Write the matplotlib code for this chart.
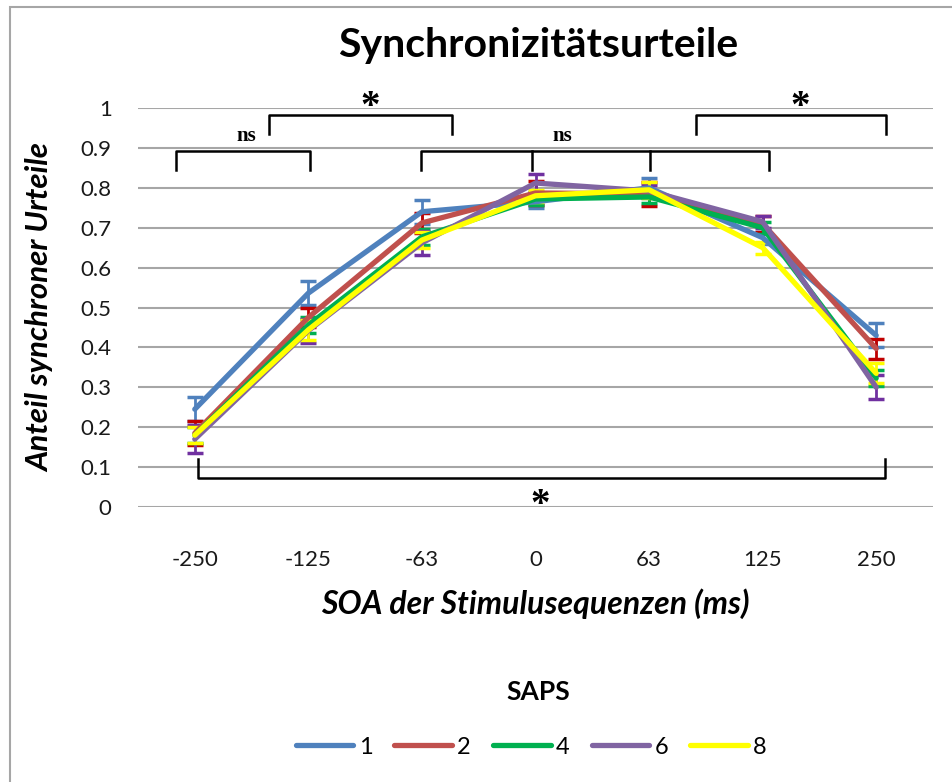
import matplotlib
matplotlib.use("Agg")
import matplotlib.pyplot as plt
from matplotlib.patches import Rectangle

plt.rcParams['font.family'] = ['Lato', 'DejaVu Sans']

# data
soa = ["-250", "-125", "-63", "0", "63", "125", "250"]
saps = ["1", "2", "4", "6", "8"]
m1 = [0.245, 0.536, 0.740, 0.765, 0.800, 0.675, 0.430]
m2 = [0.185, 0.475, 0.712, 0.787, 0.785, 0.710, 0.397]
m4 = [0.180, 0.456, 0.677, 0.772, 0.777, 0.700, 0.323]
m6 = [0.170, 0.442, 0.662, 0.812, 0.792, 0.715, 0.300]
m8 = [0.180, 0.444, 0.669, 0.780, 0.795, 0.650, 0.335]
e1 = [0.030, 0.030, 0.030, 0.015, 0.025, 0.015, 0.030]
e2 = [0.030, 0.025, 0.025, 0.030, 0.030, 0.020, 0.025]
e4 = [0.020, 0.020, 0.020, 0.015, 0.015, 0.015, 0.020]
e6 = [0.035, 0.030, 0.030, 0.022, 0.015, 0.015, 0.030]
e8 = [0.020, 0.025, 0.020, 0.015, 0.020, 0.015, 0.025]

line_cols = ["#4F81BD", "#C0504D", "#00B050", "#8064A2", "#FFFF00"]
err_cols = ["#4F81BD", "#C00000", "#00B050", "#7030A0", "#FFFF00"]

fig = plt.figure(figsize=(9.52, 7.82), dpi=100)
ax = fig.add_axes([138 / 952, 1 - 507 / 782, 795 / 952, 399 / 782])

x = list(range(len(soa)))
means = [m1, m2, m4, m6, m8]
errs = [e1, e2, e4, e6, e8]
handles = []
for m, e, lc, ec, lab in zip(means, errs, line_cols, err_cols, saps):
    ax.errorbar(x, m, yerr=e, fmt='none', ecolor=ec, elinewidth=2,
                capsize=6, capthick=2.5, zorder=3)
    h, = ax.plot(x, m, color=lc, lw=3.8, solid_capstyle='round',
                 solid_joinstyle='round', label=lab, zorder=4)
    handles.append(h)

ax.set_xlim(-0.5, len(soa) - 0.5)
ax.set_ylim(0, 1)
ax.set_yticks([i / 10 for i in range(11)])
ax.set_yticklabels(["0"] + ["0.%d" % i for i in range(1, 10)] + ["1"])
ax.set_xticks(x)
ax.set_xticklabels(soa)
ax.tick_params(length=0, labelsize=16, colors="#1a1a1a")
ax.tick_params(axis='y', pad=19)
ax.tick_params(axis='x', pad=31)
ax.grid(axis='y', color="#A6A6A6", lw=1.5)
ax.set_axisbelow(True)
for s in ax.spines.values():
    s.set_visible(False)

ax.set_xlabel("SOA der Stimulusequenzen (ms)", fontsize=23, fontweight='bold',
              fontstyle='italic', labelpad=13)
ax.set_ylabel("Anteil synchroner Urteile", fontsize=22.5, fontweight='bold',
              fontstyle='italic', labelpad=19)
fig.text(0.565, 1 - 45 / 782, "Synchronizitätsurteile", ha='center', va='center',
         fontsize=29.5, fontweight='bold')

# significance brackets
def bracket(x0, x1, ytop, ybot, inner=()):
    kw = dict(color='black', lw=1.8, clip_on=False, zorder=5)
    ax.plot([x0, x0, x1, x1], [ybot, ytop, ytop, ybot], **kw)
    for xi in inner:
        ax.plot([xi, xi], [ytop, ybot], **kw)

bracket(-0.163, 1.013, 0.892, 0.845)
bracket(0.652, 2.264, 0.982, 0.935)
bracket(1.991, 5.057, 0.892, 0.845, inner=(2.965, 4.009))
bracket(4.414, 6.088, 0.982, 0.935)
bracket(0.026, 6.079, 0.073, 0.120)

star = dict(ha='center', va='center', fontsize=28, fontweight='bold',
            family='Liberation Serif', clip_on=False)
ns = dict(ha='center', va='center', fontsize=15, fontweight='bold',
          family='Liberation Serif')
ax.text(1.546, 1.0, "*", **star)
ax.text(5.33, 1.0, "*", **star)
ax.text(3.04, 0.005, "*", **star)
ax.text(0.458, 0.93, "ns", **ns)
ax.text(3.233, 0.93, "ns", **ns)

fig.text(0.565, 1 - 692 / 782, "SAPS", ha='center', va='center',
         fontsize=19, fontweight='bold')
fig.legend(handles=handles, loc='center', bbox_to_anchor=(0.558, 1 - 747 / 782),
           ncol=5, frameon=False, fontsize=17, handlelength=2.45,
           handletextpad=0.22, columnspacing=0.93)

fig.add_artist(Rectangle((10 / 952, -0.05), 1.2, 1 - 7 / 782 + 0.05,
                         transform=fig.transFigure, fill=False,
                         edgecolor="#A6A6A6", lw=1.5))

fig.savefig("out.png", dpi=100)
